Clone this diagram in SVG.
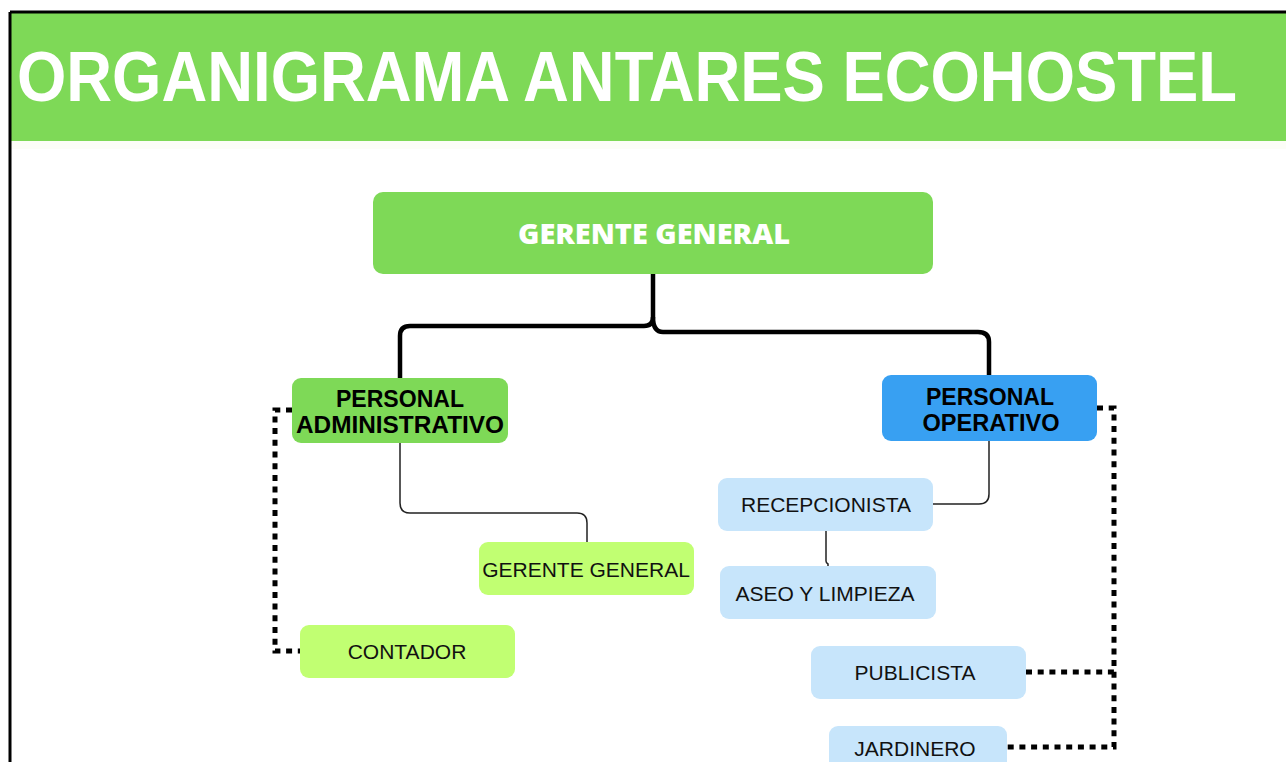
<svg xmlns="http://www.w3.org/2000/svg" width="1286" height="762" viewBox="0 0 1286 762">
<style>
.hdr{font-family:"Open Sans","Liberation Sans",sans-serif;font-weight:800;fill:#fff}
.ttl{font-family:"Liberation Sans",Arial,sans-serif;font-weight:700;fill:#fff}
.bold{font-family:"Liberation Sans",Arial,sans-serif;font-weight:700;fill:#000;text-anchor:middle;font-size:23px}
.lbl{font-family:"Liberation Sans",Arial,sans-serif;font-size:21px;fill:#111;text-anchor:middle}
.green{fill:#7ed957}
.lime{fill:#c1ff72}
.blue{fill:#38a0f2}
.lblue{fill:#c7e5fb}
.thick{fill:none;stroke:#000;stroke-width:4.5}
.thin{fill:none;stroke:#222;stroke-width:1.5}
.dot{fill:none;stroke:#000;stroke-width:5;stroke-dasharray:6 5.7}
</style>
<rect width="1286" height="762" fill="#fff"/>
<g id="header">
<rect x="10" y="12" width="1276" height="129" fill="#7ed957"/>
<rect x="10" y="141" width="1276" height="8" fill="#fcfdf7"/>
<path d="M10 12 H1286 M10 12 V762" fill="none" stroke="#000" stroke-width="3"/>
<text class="ttl" x="627" y="101" font-size="70" text-anchor="middle" textLength="1220" lengthAdjust="spacingAndGlyphs">ORGANIGRAMA ANTARES ECOHOSTEL</text>
</g>
<g id="connectors">
<path class="thick" d="M653 274 V317 Q653 326 644 326 H410 Q400 326 400 336 V378"/>
<path class="thick" d="M653 317 Q653 332 663 332 H978 Q989 332 989 342 V375"/>
<path class="thin" d="M400 443 V503 Q400 513 410 513 H577 Q587 513 587 523 V542"/>
<path class="thin" d="M989 441 V494 Q989 504 979 504 H933"/>
<path class="thin" d="M826 531 V561 Q826 563 828 564 V566"/>
<path class="dot" d="M292 410 H275 V651 H300"/>
<path class="dot" d="M1097 408 H1114 V747 H1007"/>
<path class="dot" d="M1026 672 H1114"/>
</g>
<g id="gerente-general-top">
<rect class="green" x="373" y="192" width="560" height="82" rx="10"/>
<text class="hdr" x="518" y="244" font-size="28" textLength="272" lengthAdjust="spacingAndGlyphs">GERENTE GENERAL</text>
</g>
<g id="personal-administrativo">
<rect class="green" x="292" y="378" width="216" height="65" rx="9"/>
<text class="bold" x="400" y="407" textLength="128" lengthAdjust="spacingAndGlyphs">PERSONAL</text>
<text class="bold" x="400" y="433" textLength="208" lengthAdjust="spacingAndGlyphs">ADMINISTRATIVO</text>
</g>
<g id="personal-operativo">
<rect class="blue" x="882" y="375" width="215" height="66" rx="9"/>
<text class="bold" x="990" y="405" textLength="128" lengthAdjust="spacingAndGlyphs">PERSONAL</text>
<text class="bold" x="991" y="431" textLength="137" lengthAdjust="spacingAndGlyphs">OPERATIVO</text>
</g>
<g id="gerente-general">
<rect class="lime" x="479" y="542" width="215" height="53" rx="9"/>
<text class="lbl" x="586" y="577">GERENTE GENERAL</text>
</g>
<g id="contador">
<rect class="lime" x="300" y="625" width="215" height="53" rx="9"/>
<text class="lbl" x="407" y="659">CONTADOR</text>
</g>
<g id="recepcionista">
<rect class="lblue" x="718" y="478" width="215" height="53" rx="9"/>
<text class="lbl" x="826" y="512">RECEPCIONISTA</text>
</g>
<g id="aseo-y-limpieza">
<rect class="lblue" x="720" y="566" width="216" height="53" rx="9"/>
<text class="lbl" x="825" y="601">ASEO Y LIMPIEZA</text>
</g>
<g id="publicista">
<rect class="lblue" x="811" y="646" width="215" height="53" rx="9"/>
<text class="lbl" x="915" y="680">PUBLICISTA</text>
</g>
<g id="jardinero">
<rect class="lblue" x="829" y="726" width="178" height="53" rx="9"/>
<text class="lbl" x="915" y="756">JARDINERO</text>
</g>
</svg>
